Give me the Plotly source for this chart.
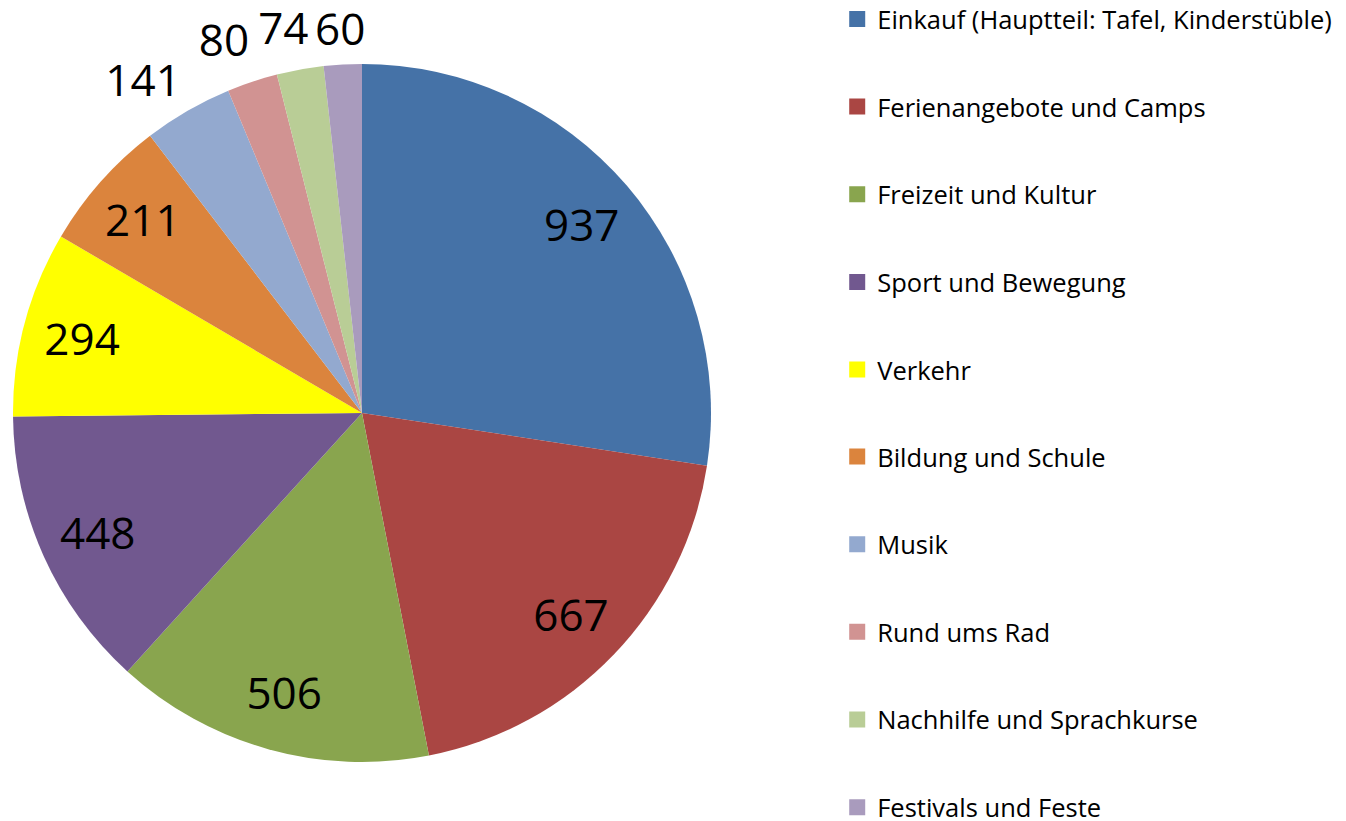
import plotly.graph_objects as go

categories = [
    "Einkauf (Hauptteil: Tafel, Kinderstüble)",
    "Ferienangebote und Camps",
    "Freizeit und Kultur",
    "Sport und Bewegung",
    "Verkehr",
    "Bildung und Schule",
    "Musik",
    "Rund ums Rad",
    "Nachhilfe und Sprachkurse",
    "Festivals und Feste",
]
values = [937, 667, 506, 448, 294, 211, 141, 80, 74, 60]
colors = ["#4572A7", "#AA4643", "#89A54E", "#71588F", "#FFFF00",
          "#DB843D", "#93A9CF", "#D19392", "#B9CD96", "#A99BBD"]

FONT = "'Open Sans', Calibri, Carlito, sans-serif"
W, H = 1346, 821
CX, CY, R = 362, 413, 349          # pie centre / radius in pixels (layout)
LABEL_SIZE = 44
LEGEND_SIZE = 25.5
LEGEND_GAP = 51.5
N = len(values)
CLEAR = ["rgba(0,0,0,0)"] * N


def domain(scale=1.0, dx=0.0):
    cx = CX + dx
    rx = min(R * scale, cx) / W
    ry = R * scale / H
    return dict(x=[max(0.0, cx / W - rx), min(1.0, cx / W + rx)],
                y=[max(0.0, 1 - CY / H - ry), min(1.0, 1 - CY / H + ry)])


fig = go.Figure()

# visible pie
fig.add_trace(go.Pie(
    labels=categories, values=values, sort=False, direction="clockwise",
    rotation=0, automargin=False,
    marker=dict(colors=colors, line=dict(width=0)),
    textinfo="none", domain=domain(), showlegend=False,
    hoverinfo="label+value",
))

# value labels of the large slices, set in a ring (transparent overlay)
ring_pos = ["inside"] * 6 + ["none"] * 4
fig.add_trace(go.Pie(
    labels=categories, values=values, sort=False, direction="clockwise",
    rotation=0, automargin=False, hole=0.66,
    marker=dict(colors=CLEAR, line=dict(width=0)),
    textinfo="value", textposition=ring_pos,
    insidetextorientation="horizontal",
    insidetextfont=dict(family=FONT, size=LABEL_SIZE, color="black"),
    domain=domain(), showlegend=False, hoverinfo="skip",
))

# value labels of the small slices, outside the pie
outside_idx = [6, 7, 8, 9]
outside_pull = [0.014, 0.034, 0.037, 0.0165]
outside_rot = [1.5, 2.0, 1.0, 2.5]
outside_dx = [2.5, 3.5, 19.5, 22.5]
for idx, p, rot, dx in zip(outside_idx, outside_pull, outside_rot, outside_dx):
    pos = ["none"] * N
    pos[idx] = "outside"
    pull = [0] * N
    pull[idx] = p
    fig.add_trace(go.Pie(
        labels=categories, values=values, sort=False, direction="clockwise",
        rotation=rot, automargin=False, pull=pull,
        marker=dict(colors=CLEAR, line=dict(width=0)),
        textinfo="value", textposition=pos,
        outsidetextfont=dict(family=FONT, size=LABEL_SIZE, color="black"),
        domain=domain(1 + p, dx), showlegend=False, hoverinfo="skip",
    ))

# legend entries (split over two legend boxes so none needs scrolling)
for i, (cat, col) in enumerate(zip(categories, colors)):
    fig.add_trace(go.Scatter(
        x=[None], y=[None], mode="markers",
        marker=dict(symbol="square", size=16, color=col),
        name=cat, legendgroup=f"g{i}", showlegend=True,
        legend="legend" if i < 5 else "legend2",
    ))

legend_style = dict(xanchor="left", yanchor="top",
                    font=dict(family=FONT, size=LEGEND_SIZE, color="black"),
                    tracegroupgap=LEGEND_GAP, bgcolor="rgba(0,0,0,0)",
                    itemclick=False, itemdoubleclick=False)

fig.update_layout(
    width=W, height=H,
    margin=dict(l=0, r=0, t=0, b=0, autoexpand=False),
    paper_bgcolor="white", plot_bgcolor="white",
    font=dict(family=FONT, size=LEGEND_SIZE, color="black"),
    xaxis=dict(visible=False), yaxis=dict(visible=False),
    legend=dict(x=0.622, y=1.005, **legend_style),
    legend2=dict(x=0.622, y=0.472, **legend_style),
)

fig.write_html("out.html", config={"displayModeBar": False},
               post_script="document.body.style.margin='0';")
